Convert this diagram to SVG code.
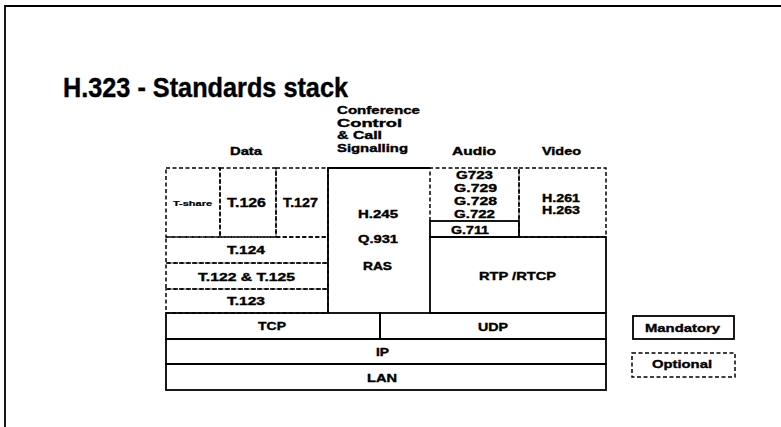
<svg xmlns="http://www.w3.org/2000/svg" width="781" height="427" viewBox="0 0 781 427">
<style>
text{font-family:"Liberation Sans",Arial,sans-serif;font-weight:bold;fill:#000;stroke:#000;stroke-width:0.35;font-size:10.5px}
.s{fill:none;stroke:#000;stroke-width:1.8}
.d{fill:none;stroke:#000;stroke-width:1.5;stroke-dasharray:4 2.5}
.f{fill:none;stroke:#000;stroke-width:1.8}
.h{font-size:10px}
</style>
<rect width="781" height="427" fill="#fff"/>
<g id="frame"><path class="f" d="M5,427 V6 H781"/></g>
<g id="title"><text x="63" y="97" style="font-size:28px;stroke-width:0.4" textLength="285" lengthAdjust="spacingAndGlyphs">H.323 - Standards stack</text></g>
<g id="headers">
<text class="h" x="230" y="155" textLength="32" lengthAdjust="spacingAndGlyphs">Data</text>
<text class="h" x="337" y="114" textLength="83" lengthAdjust="spacingAndGlyphs">Conference</text>
<text class="h" x="337" y="127" textLength="65" lengthAdjust="spacingAndGlyphs">Control</text>
<text class="h" x="337" y="139" textLength="45" lengthAdjust="spacingAndGlyphs">&amp; Call</text>
<text class="h" x="337" y="152" textLength="71" lengthAdjust="spacingAndGlyphs">Signalling</text>
<text class="h" x="452" y="155" textLength="44" lengthAdjust="spacingAndGlyphs">Audio</text>
<text class="h" x="542" y="155" textLength="39" lengthAdjust="spacingAndGlyphs">Video</text>
</g>
<g id="tshare"><rect class="d" x="166" y="168" width="54" height="69"/><text x="173" y="206" style="font-size:6.5px;stroke-width:0.2" textLength="39" lengthAdjust="spacingAndGlyphs">T-share</text></g>
<g id="t126"><rect class="d" x="220" y="168" width="56" height="69"/><text x="227" y="207" style="font-size:13px" textLength="39" lengthAdjust="spacingAndGlyphs">T.126</text></g>
<g id="t127"><rect class="d" x="276" y="168" width="52" height="69"/><text x="283" y="207" style="font-size:13px" textLength="35" lengthAdjust="spacingAndGlyphs">T.127</text></g>
<g id="t124"><rect class="d" x="166" y="237" width="162" height="26"/><text x="227" y="254" textLength="38" lengthAdjust="spacingAndGlyphs">T.124</text></g>
<g id="t122"><rect class="d" x="166" y="263" width="162" height="26"/><text x="198" y="281" textLength="97" lengthAdjust="spacingAndGlyphs">T.122 &amp; T.125</text></g>
<g id="t123"><rect class="d" x="166" y="289" width="162" height="24"/><text x="227" y="305" textLength="38" lengthAdjust="spacingAndGlyphs">T.123</text></g>
<g id="conference"><path class="s" d="M328,313 V168 H430"/>
<text x="358" y="218" textLength="40" lengthAdjust="spacingAndGlyphs">H.245</text>
<text x="358" y="243" textLength="40" lengthAdjust="spacingAndGlyphs">Q.931</text>
<text x="363" y="270" textLength="29" lengthAdjust="spacingAndGlyphs">RAS</text></g>
<g id="audio"><path class="d" d="M430,221 V168 H519 V221"/>
<text x="456" y="179" textLength="37" lengthAdjust="spacingAndGlyphs">G723</text>
<text x="454" y="192" textLength="43" lengthAdjust="spacingAndGlyphs">G.729</text>
<text x="454" y="205" textLength="43" lengthAdjust="spacingAndGlyphs">G.728</text>
<text x="454" y="218" textLength="41" lengthAdjust="spacingAndGlyphs">G.722</text></g>
<g id="g711"><rect class="s" x="430" y="221" width="89" height="16"/><text x="451" y="234" textLength="38" lengthAdjust="spacingAndGlyphs">G.711</text></g>
<g id="video"><rect class="d" x="519" y="168" width="87" height="69"/>
<text x="542" y="202" textLength="38" lengthAdjust="spacingAndGlyphs">H.261</text>
<text x="542" y="214" textLength="38" lengthAdjust="spacingAndGlyphs">H.263</text></g>
<g id="rtp"><rect class="s" x="430" y="237" width="176" height="76"/><text x="479" y="280" textLength="77" lengthAdjust="spacingAndGlyphs">RTP /RTCP</text></g>
<g id="tcp"><rect class="s" x="166" y="313" width="214" height="26"/><text x="258" y="330" textLength="28" lengthAdjust="spacingAndGlyphs">TCP</text></g>
<g id="udp"><rect class="s" x="380" y="313" width="226" height="26"/><text x="478" y="331" textLength="30" lengthAdjust="spacingAndGlyphs">UDP</text></g>
<g id="ip"><rect class="s" x="166" y="339" width="440" height="25"/><text x="376" y="356" textLength="13" lengthAdjust="spacingAndGlyphs">IP</text></g>
<g id="lan"><rect class="s" x="166" y="364" width="440" height="26"/><text x="367" y="382" textLength="30" lengthAdjust="spacingAndGlyphs">LAN</text></g>
<g id="legend-mandatory"><rect class="s" x="633" y="316" width="101" height="23"/><text x="645" y="332" style="font-size:11px" textLength="75" lengthAdjust="spacingAndGlyphs">Mandatory</text></g>
<g id="legend-optional"><rect class="d" x="632" y="353" width="103" height="24"/><text x="652" y="368" style="font-size:11px" textLength="60" lengthAdjust="spacingAndGlyphs">Optional</text></g>
</svg>
